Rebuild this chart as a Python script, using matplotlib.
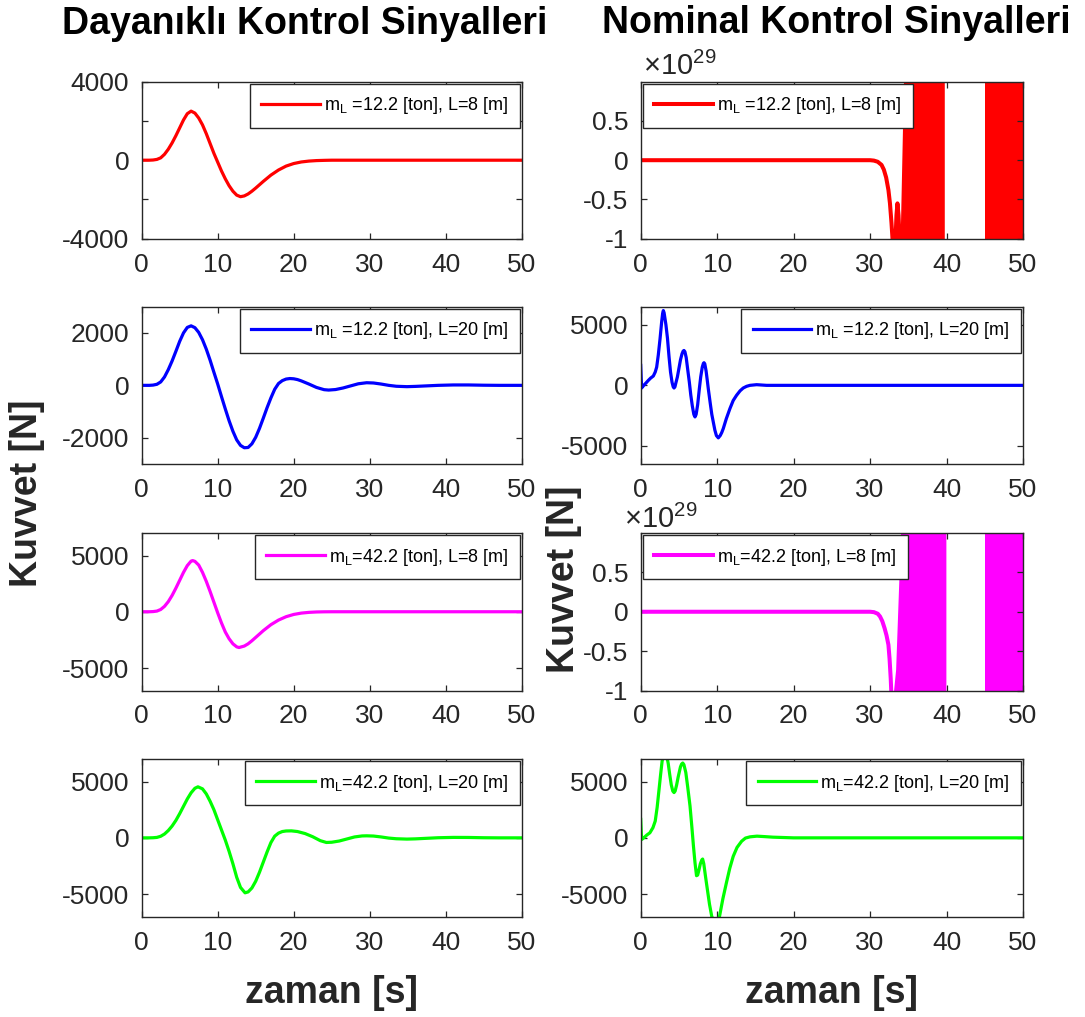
import matplotlib
matplotlib.use('Agg')
import matplotlib.pyplot as plt

plt.rcParams['font.family'] = ['Liberation Sans', 'DejaVu Sans']
plt.rcParams['mathtext.fontset'] = 'custom'
plt.rcParams['mathtext.rm'] = 'Liberation Sans'
plt.rcParams['mathtext.it'] = 'Liberation Sans'
plt.rcParams['mathtext.default'] = 'regular'

# ---------------- data ----------------
xticks = [0, 10, 20, 30, 40, 50]

# Robust control (left column)
R1_t = [0, 1, 1.5, 2, 2.5, 3, 3.5, 4, 4.5, 5, 5.5, 6, 6.5, 7, 7.5, 8, 8.5, 9, 9.5, 10,
        10.5, 11, 11.5, 12, 12.5, 13, 13.5, 14, 14.5, 15, 16, 17, 18, 19, 20, 21, 22, 23, 24, 25, 50]
R1_y = [0, 0, 10, 40, 120, 300, 560, 880, 1250, 1650, 2050, 2370, 2500, 2400, 2150, 1800, 1350, 850, 350, -100,
        -550, -950, -1300, -1580, -1780, -1860, -1820, -1720, -1580, -1420, -1080, -760, -500, -300, -170, -90, -45, -20, -8, 0, 0]

B1_t = [0, 1, 1.5, 2, 2.5, 3, 3.5, 4, 4.5, 5, 5.5, 6, 6.5, 7, 7.5, 8, 8.5, 9, 9.5, 10,
        10.5, 11, 11.5, 12, 12.5, 13, 13.5, 14, 14.5, 15, 15.5, 16, 16.5, 17, 17.5, 18, 18.5, 19, 19.5, 20,
        20.5, 21, 22, 23, 24, 24.6, 25.5, 26.5, 27.5, 28.5, 29.6, 30.5, 31.5, 32.5, 33.5, 34.9, 36, 37.5, 39, 41,
        43, 45, 47, 50]
B1_y = [0, 0, 10, 40, 130, 320, 600, 930, 1300, 1680, 2000, 2210, 2270, 2200, 2020, 1740, 1380, 960, 500, 50,
        -430, -900, -1350, -1750, -2080, -2290, -2380, -2370, -2230, -1980, -1640, -1250, -850, -480, -150, 70, 180, 240, 260, 250,
        220, 170, 50, -80, -165, -180, -160, -100, -20, 60, 100, 90, 50, 0, -35, -50, -40, -20, 0, 15,
        15, 5, 0, 0]

M1_t = [0, 1, 1.5, 2, 2.5, 3, 3.5, 4, 4.5, 5, 5.5, 6, 6.5, 6.7, 7, 7.5, 8, 8.5, 9, 9.5,
        10, 10.5, 11, 11.5, 12, 12.5, 12.8, 13.5, 14, 14.5, 15, 16, 17, 18, 19, 20, 21, 22, 23, 24, 25, 50]
M1_y = [0, 0, 15, 60, 200, 480, 900, 1450, 2100, 2800, 3500, 4100, 4500, 4550, 4480, 4150, 3500, 2700, 1800, 850,
        -100, -1000, -1800, -2400, -2850, -3120, -3180, -3050, -2850, -2580, -2280, -1680, -1150, -740, -440, -240, -120, -55, -20, -5, 0, 0]

G1_t = [0, 1, 1.5, 2, 2.5, 3, 3.5, 4, 4.5, 5, 5.5, 6, 6.5, 7, 7.4, 8, 8.5, 9, 9.5, 10,
        10.5, 11, 11.5, 12, 12.5, 13, 13.6, 14, 14.5, 15, 15.5, 16, 16.5, 17, 17.5, 18, 18.5, 19, 19.7, 20.5,
        21.5, 22.5, 23.5, 24.3, 25, 26, 27, 28, 29, 29.6, 30.5, 31.5, 32.5, 33.5, 34.9, 36, 37.5, 39, 41, 43,
        45, 47, 50]
G1_y = [0, 0, 10, 40, 140, 340, 650, 1050, 1550, 2150, 2800, 3450, 4000, 4400, 4530, 4350, 3900, 3250, 2500, 1600,
        700, -200, -1200, -2300, -3500, -4400, -4880, -4800, -4450, -3850, -3050, -2150, -1250, -420, 150, 420, 560, 610, 620, 560,
        380, 100, -250, -410, -390, -280, -100, 80, 170, 180, 160, 80, -20, -80, -110, -90, -40, 10, 40, 35,
        10, 0, 0]

# Nominal control (right column); R2 / M2 in units of 1e29 N
R2_t = [0, 30, 30.5, 31, 31.5, 31.8, 32.1, 32.4, 32.6, 32.8, 33.0, 33.3, 33.45, 33.58, 33.72, 33.95, 34.2, 34.76]
R2_y = [0, 0, -0.005, -0.02, -0.06, -0.12, -0.22, -0.38, -0.55, -0.8, -1.1, -1.1, -0.7, -0.55, -0.7, -1.2, -1.3, 1.3]
R2_blk_lb = [34.2, 44.99]
R2_blk_lt = [34.76, 44.99]
R2_blk_r = [39.77, 50.0]

B2_t = [0, 0.12, 0.4, 0.7, 1.0, 1.3, 1.65, 1.9, 2.09, 2.3, 2.53, 2.75, 2.87, 2.96, 3.06, 3.18, 3.3, 3.5, 3.7, 3.9,
        4.1, 4.25, 4.36, 4.48, 4.6, 4.8, 5.0, 5.2, 5.4, 5.55, 5.66, 5.78, 5.95, 6.15, 6.36, 6.55, 6.75, 6.95, 7.1, 7.25,
        7.45, 7.67, 7.85, 8.05, 8.2, 8.28, 8.38, 8.55, 8.7, 8.84, 9.1, 9.3, 9.49, 9.7, 9.9, 10.15, 10.4, 10.6, 10.8, 11.2,
        11.67, 12.1, 12.54, 13.0, 13.41, 13.85, 14.29, 15.16, 16.46, 50]
B2_y = [1650, -220, 0, 200, 410, 600, 770, 1100, 1510, 2500, 3850, 5300, 5950, 6180, 6000, 5500, 5000, 3900, 2400, 1100,
        250, -120, -220, -120, 200, 700, 1400, 2100, 2600, 2830, 2880, 2780, 2300, 1300, 270, -800, -1700, -2400, -2610, -2400,
        -1600, -280, 700, 1500, 1820, 1870, 1780, 1200, 450, -280, -1500, -2400, -3020, -3700, -4150, -4340, -4150, -3900, -3570, -2750,
        -1920, -1250, -820, -450, -220, -80, 0, 55, 0, 0]

M2_t = [0, 30, 30.5, 31, 31.3, 31.6, 31.9, 32.15, 32.4, 32.55, 32.7, 32.9, 33.1, 33.67, 34.42]
M2_y = [0, 0, -0.005, -0.025, -0.06, -0.12, -0.21, -0.3, -0.42, -0.6, -0.85, -1.3, -1.3, -0.74, 1.3]
M2_blk_lb = [33.3, 45.08]
M2_blk_lt = [34.42, 45.08]
M2_blk_r = [39.98, 50.0]

G2_t = [0, 0.12, 0.4, 0.8, 1.2, 1.6, 1.9, 2.15, 2.4, 2.6, 2.8, 3.0, 3.2, 3.4, 3.6, 3.8, 4.0, 4.2, 4.36, 4.5,
        4.7, 4.9, 5.2, 5.35, 5.5, 5.65, 5.9, 6.15, 6.45, 6.7, 6.9, 7.1, 7.3, 7.45, 7.6, 7.8, 8.0, 8.1, 8.25, 8.45,
        8.6, 9.0, 9.3, 9.8, 10.3, 10.75, 11.2, 11.65, 12.1, 12.6, 13.2, 13.7, 14.3, 15.2, 16.2, 17.3, 20, 50]
G2_y = [1640, -150, 0, 250, 450, 900, 1490, 2700, 4300, 5600, 6800, 7500, 7600, 7300, 6600, 5600, 4700, 4150, 4020, 4150,
        4700, 5400, 6300, 6550, 6640, 6500, 5800, 4500, 2830, 900, -740, -2200, -3360, -3300, -2900, -2300, -1950, -1880, -2300, -3300,
        -4020, -5900, -7000, -7600, -7000, -5400, -4020, -2700, -1640, -850, -300, -20, 90, 150, 110, 60, 0, 0]

labels = [r'm$_L$ =12.2 [ton], L=8 [m]', r'm$_L$ =12.2 [ton], L=20 [m]',
          r'm$_L$=42.2 [ton], L=8 [m]', r'm$_L$=42.2 [ton], L=20 [m]']
colors = ['#ff0000', '#0000ff', '#ff00ff', '#00ff00']

# ---------------- figure ----------------
W, H = 1085, 1017
fig = plt.figure(figsize=(W / 100, H / 100), dpi=100)
TXT = '#262626'

def px_axes(x0, y0, x1, y1):
    return fig.add_axes([x0 / W, 1 - y1 / H, (x1 - x0) / W, (y1 - y0) / H])

rows = [(81.7, 238.7), (306.7, 464.0), (533.0, 690.5), (759.0, 916.7)]
left_x = (141.7, 521.7)
right_x = (640.7, 1023.0)

def style(ax, ylim, yt, ytl):
    ax.set_xlim(0, 50)
    ax.set_ylim(*ylim)
    ax.set_xticks(xticks)
    ax.set_xticklabels([str(v) for v in xticks])
    ax.set_yticks(yt)
    ax.set_yticklabels(ytl)
    ax.tick_params(direction='in', top=True, right=True, length=4.5, width=0.9,
                   color=TXT, labelcolor=TXT, labelsize=19)
    ax.tick_params(axis='x', pad=10)
    ax.tick_params(axis='y', pad=9)
    for s in ax.spines.values():
        s.set_color(TXT)
        s.set_linewidth(1.0)

def add_legend(ax, loc, anchor):
    leg = ax.legend(loc=loc, bbox_to_anchor=anchor, borderaxespad=0.1, fancybox=False,
                    edgecolor=TXT, framealpha=1, fontsize=13, handlelength=3.25,
                    handletextpad=0.2, borderpad=0.65)
    leg.get_frame().set_linewidth(1.0)

LW = 2.3

# Left column
left_data = [(R1_t, R1_y, (-4000, 4000), [-4000, -2000, 0, 2000, 4000], ['-4000', '', '0', '', '4000']),
             (B1_t, B1_y, (-3000, 3000), [-2000, 0, 2000], ['-2000', '0', '2000']),
             (M1_t, M1_y, (-7000, 7000), [-5000, 0, 5000], ['-5000', '0', '5000']),
             (G1_t, G1_y, (-7000, 7000), [-5000, 0, 5000], ['-5000', '0', '5000'])]
for i, (t, y, yl, yt, ytl) in enumerate(left_data):
    ax = px_axes(left_x[0], rows[i][0], left_x[1], rows[i][1])
    ax.plot(t, y, color=colors[i], lw=LW, label=labels[i])
    style(ax, yl, yt, ytl)
    add_legend(ax, 'upper right', (1, 1))

# Right column
sci_ticks = [-1, -0.5, 0, 0.5]
sci_labels = ['-1', '-0.5', '0', '0.5']

ax = px_axes(right_x[0], rows[0][0], right_x[1], rows[0][1])
ax.plot(R2_t, R2_y, color=colors[0], lw=LW + 0.6, label=labels[0])
for lb, lt, r in zip(R2_blk_lb, R2_blk_lt, R2_blk_r):
    ax.fill([lb, lt, r, r], [-1.3, 1.3, 1.3, -1.3], color=colors[0], lw=0)
style(ax, (-1, 1), sci_ticks, sci_labels)
add_legend(ax, 'upper left', (0, 1))

ax = px_axes(right_x[0], rows[1][0], right_x[1], rows[1][1])
ax.plot(B2_t, B2_y, color=colors[1], lw=LW, label=labels[1])
style(ax, (-6500, 6500), [-5000, 0, 5000], ['-5000', '0', '5000'])
add_legend(ax, 'upper right', (1, 1))

ax = px_axes(right_x[0], rows[2][0], right_x[1], rows[2][1])
ax.plot(M2_t, M2_y, color=colors[2], lw=LW + 0.6, label=labels[2])
for lb, lt, r in zip(M2_blk_lb, M2_blk_lt, M2_blk_r):
    ax.fill([lb, lt, r, r], [-1.3, 1.3, 1.3, -1.3], color=colors[2], lw=0)
style(ax, (-1, 1), sci_ticks, sci_labels)
add_legend(ax, 'upper left', (0, 1))

ax = px_axes(right_x[0], rows[3][0], right_x[1], rows[3][1])
ax.plot(G2_t, G2_y, color=colors[3], lw=LW, label=labels[3])
style(ax, (-7000, 7000), [-5000, 0, 5000], ['-5000', '0', '5000'])
add_legend(ax, 'upper right', (1, 1))

# exponent labels
fig.text(643 / W, 1 - 75 / H, r'$\times$10$^{29}$', fontsize=21, color=TXT, ha='left', va='baseline')
fig.text(624 / W, 1 - 528 / H, r'$\times$10$^{29}$', fontsize=21, color=TXT, ha='left', va='baseline')

# titles and axis labels
fig.text(304.5 / W, 1 - 34 / H, 'Dayanıklı Kontrol Sinyalleri', fontsize=27, fontweight='bold',
         ha='center', va='baseline', color='black')
fig.text(836 / W, 1 - 33 / H, 'Nominal Kontrol Sinyalleri', fontsize=27, fontweight='bold',
         ha='center', va='baseline', color='black')
fig.text(331.5 / W, 1 - 1003 / H, 'zaman [s]', fontsize=27, fontweight='bold',
         ha='center', va='baseline', color=TXT)
fig.text(831.5 / W, 1 - 1003 / H, 'zaman [s]', fontsize=27, fontweight='bold',
         ha='center', va='baseline', color=TXT)
fig.text(27 / W, 1 - 493 / H, 'Kuvvet [N]', fontsize=27, fontweight='bold', rotation=90,
         ha='center', va='center', color=TXT)
fig.text(564 / W, 1 - 579 / H, 'Kuvvet [N]', fontsize=27, fontweight='bold', rotation=90,
         ha='center', va='center', color=TXT)

fig.savefig('out.png', dpi=100)
